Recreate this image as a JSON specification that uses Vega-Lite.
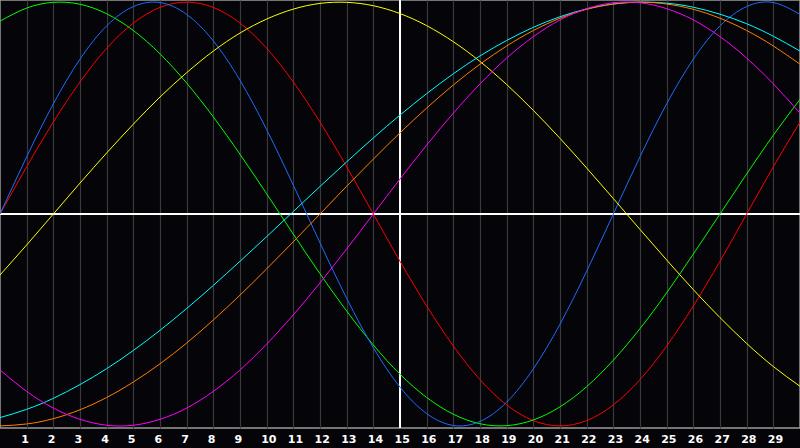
{
  "$schema": "https://vega.github.io/schema/vega-lite/v6.json",
  "width": 800,
  "height": 428,
  "autosize": {"type": "none"},
  "padding": {"left": 0, "top": 0, "right": 0, "bottom": 20},
  "background": "#050408",
  "data": {
    "values": [
      {"day": 0, "physical": 0, "emotional": 0, "intellectual": 0.910, "intuitive": -0.736, "aesthetic": -0.288, "awareness": -1, "spiritual": -0.961},
      {"day": 1, "physical": 0.270, "emotional": 0.223, "intellectual": 0.972, "intuitive": -0.837, "aesthetic": -0.146, "awareness": -0.991, "spiritual": -0.922},
      {"day": 2, "physical": 0.520, "emotional": 0.434, "intellectual": 0.999, "intuitive": -0.916, "aesthetic": 0, "awareness": -0.966, "spiritual": -0.870},
      {"day": 3, "physical": 0.731, "emotional": 0.623, "intellectual": 0.990, "intuitive": -0.969, "aesthetic": 0.146, "awareness": -0.924, "spiritual": -0.805},
      {"day": 4, "physical": 0.888, "emotional": 0.782, "intellectual": 0.945, "intuitive": -0.997, "aesthetic": 0.288, "awareness": -0.866, "spiritual": -0.730},
      {"day": 5, "physical": 0.979, "emotional": 0.901, "intellectual": 0.866, "intuitive": -0.997, "aesthetic": 0.424, "awareness": -0.793, "spiritual": -0.644},
      {"day": 6, "physical": 0.998, "emotional": 0.975, "intellectual": 0.756, "intuitive": -0.969, "aesthetic": 0.552, "awareness": -0.707, "spiritual": -0.549},
      {"day": 7, "physical": 0.942, "emotional": 1, "intellectual": 0.618, "intuitive": -0.916, "aesthetic": 0.667, "awareness": -0.609, "spiritual": -0.446},
      {"day": 8, "physical": 0.817, "emotional": 0.975, "intellectual": 0.458, "intuitive": -0.837, "aesthetic": 0.769, "awareness": -0.5, "spiritual": -0.337},
      {"day": 9, "physical": 0.631, "emotional": 0.901, "intellectual": 0.282, "intuitive": -0.736, "aesthetic": 0.854, "awareness": -0.383, "spiritual": -0.223},
      {"day": 10, "physical": 0.398, "emotional": 0.782, "intellectual": 0.095, "intuitive": -0.614, "aesthetic": 0.920, "awareness": -0.259, "spiritual": -0.107},
      {"day": 11, "physical": 0.136, "emotional": 0.623, "intellectual": -0.095, "intuitive": -0.476, "aesthetic": 0.967, "awareness": -0.131, "spiritual": 0.012},
      {"day": 12, "physical": -0.136, "emotional": 0.434, "intellectual": -0.282, "intuitive": -0.325, "aesthetic": 0.994, "awareness": 0, "spiritual": 0.130},
      {"day": 13, "physical": -0.398, "emotional": 0.223, "intellectual": -0.458, "intuitive": -0.165, "aesthetic": 0.999, "awareness": 0.131, "spiritual": 0.246},
      {"day": 14, "physical": -0.631, "emotional": 0, "intellectual": -0.618, "intuitive": 0, "aesthetic": 0.983, "awareness": 0.259, "spiritual": 0.359},
      {"day": 15, "physical": -0.817, "emotional": -0.223, "intellectual": -0.756, "intuitive": 0.165, "aesthetic": 0.946, "awareness": 0.383, "spiritual": 0.467},
      {"day": 16, "physical": -0.942, "emotional": -0.434, "intellectual": -0.866, "intuitive": 0.325, "aesthetic": 0.889, "awareness": 0.5, "spiritual": 0.568},
      {"day": 17, "physical": -0.998, "emotional": -0.623, "intellectual": -0.945, "intuitive": 0.476, "aesthetic": 0.813, "awareness": 0.609, "spiritual": 0.662},
      {"day": 18, "physical": -0.979, "emotional": -0.782, "intellectual": -0.990, "intuitive": 0.614, "aesthetic": 0.720, "awareness": 0.707, "spiritual": 0.746},
      {"day": 19, "physical": -0.888, "emotional": -0.901, "intellectual": -0.999, "intuitive": 0.736, "aesthetic": 0.611, "awareness": 0.793, "spiritual": 0.819},
      {"day": 20, "physical": -0.731, "emotional": -0.975, "intellectual": -0.972, "intuitive": 0.837, "aesthetic": 0.489, "awareness": 0.866, "spiritual": 0.881},
      {"day": 21, "physical": -0.520, "emotional": -1, "intellectual": -0.910, "intuitive": 0.916, "aesthetic": 0.357, "awareness": 0.924, "spiritual": 0.931},
      {"day": 22, "physical": -0.270, "emotional": -0.975, "intellectual": -0.815, "intuitive": 0.969, "aesthetic": 0.217, "awareness": 0.966, "spiritual": 0.968},
      {"day": 23, "physical": 0, "emotional": -0.901, "intellectual": -0.690, "intuitive": 0.997, "aesthetic": 0.073, "awareness": 0.991, "spiritual": 0.991},
      {"day": 24, "physical": 0.270, "emotional": -0.782, "intellectual": -0.541, "intuitive": 0.997, "aesthetic": -0.073, "awareness": 1, "spiritual": 1},
      {"day": 25, "physical": 0.520, "emotional": -0.623, "intellectual": -0.372, "intuitive": 0.969, "aesthetic": -0.217, "awareness": 0.991, "spiritual": 0.995},
      {"day": 26, "physical": 0.731, "emotional": -0.434, "intellectual": -0.189, "intuitive": 0.916, "aesthetic": -0.357, "awareness": 0.966, "spiritual": 0.976},
      {"day": 27, "physical": 0.888, "emotional": -0.223, "intellectual": 0, "intuitive": 0.837, "aesthetic": -0.489, "awareness": 0.924, "spiritual": 0.943},
      {"day": 28, "physical": 0.979, "emotional": 0, "intellectual": 0.189, "intuitive": 0.736, "aesthetic": -0.611, "awareness": 0.866, "spiritual": 0.898},
      {"day": 29, "physical": 0.998, "emotional": 0.223, "intellectual": 0.372, "intuitive": 0.614, "aesthetic": -0.720, "awareness": 0.793, "spiritual": 0.839},
      {"day": 30, "physical": 0.942, "emotional": 0.434, "intellectual": 0.541, "intuitive": 0.476, "aesthetic": -0.813, "awareness": 0.707, "spiritual": 0.769}
    ]
  },
  "transform": [
    {
      "fold": ["emotional", "intellectual", "physical", "aesthetic", "spiritual", "awareness", "intuitive"],
      "as": ["cycle", "value"]
    }
  ],
  "encoding": {
    "x": {
      "field": "day",
      "type": "quantitative",
      "scale": {"domain": [0, 30], "nice": false, "zero": false},
      "axis": {
        "values": [1, 2, 3, 4, 5, 6, 7, 8, 9, 10, 11, 12, 13, 14, 15, 16, 17, 18, 19, 20, 21, 22, 23, 24, 25, 26, 27, 28, 29],
        "title": null,
        "grid": true,
        "gridColor": "#3a3a3a",
        "gridWidth": 1.2,
        "domain": false,
        "ticks": false,
        "labelColor": "#ffffff",
        "labelFont": "DejaVu Sans",
        "labelFontWeight": "bold",
        "labelFontSize": 11,
        "labelAlign": "left",
        "labelOffset": -6,
        "labelPadding": 5,
        "labelFlush": false,
        "labelOverlap": false
      }
    },
    "y": {
      "field": "value",
      "type": "quantitative",
      "scale": {"domain": [-1.01, 1.01], "nice": false, "zero": false},
      "axis": null
    }
  },
  "layer": [
    {
      "mark": {"type": "rule", "color": "#ffffff", "strokeWidth": 1.5},
      "encoding": {
        "x": {"datum": 15, "type": "quantitative"},
        "y": null
      }
    },
    {
      "mark": {"type": "rule", "color": "#ffffff", "strokeWidth": 1.5},
      "encoding": {
        "x": null,
        "y": {"datum": 0, "type": "quantitative"}
      }
    },
    {
      "mark": {"type": "line", "interpolate": "natural", "strokeWidth": 1},
      "encoding": {
        "color": {
          "field": "cycle",
          "type": "nominal",
          "scale": {
            "domain": ["emotional", "intellectual", "physical", "aesthetic", "spiritual", "awareness", "intuitive"],
            "range": ["#ff0000", "#00ff00", "#1c6cff", "#ffff00", "#00ffff", "#ff8000", "#ff00ff"]
          },
          "legend": null
        }
      }
    }
  ],
  "config": {
    "view": {"stroke": "#9a9a9a", "strokeWidth": 1.5}
  }
}
